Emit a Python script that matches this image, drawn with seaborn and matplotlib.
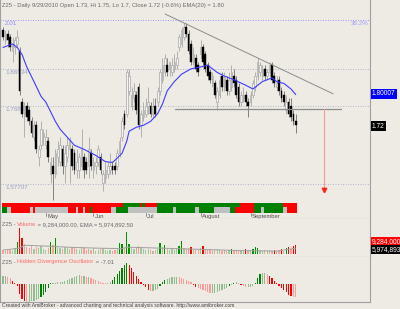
import numpy as np
import matplotlib
matplotlib.use('Agg')
import matplotlib.pyplot as plt
from matplotlib.transforms import blended_transform_factory
import seaborn as sns

# ---------------- data ----------------
opens = [1.98,1.95,1.97,1.96,1.92,1.93,1.94,1.92,1.78,1.75,1.77,1.76,1.73,1.69,1.72,1.64,1.67,1.69,1.67,1.68,
         1.60,1.62,1.60,1.64,1.63,1.66,1.62,1.64,1.66,1.66,1.65,1.61,1.61,1.62,1.64,1.63,1.62,1.65,1.61,1.62,
         1.63,1.64,1.58,1.59,1.60,1.61,1.62,1.62,1.62,1.65,1.69,1.75,1.75,1.81,1.77,1.79,1.80,1.82,1.72,1.74,
         1.75,1.77,1.77,1.75,1.77,1.78,1.81,1.84,1.86,1.88,1.87,1.86,1.87,1.88,1.93,1.94,1.96,1.99,1.97,1.94,
         1.89,1.90,1.88,1.91,1.93,1.91,1.88,1.86,1.83,1.83,1.78,1.80,1.85,1.82,1.84,1.81,1.82,1.85,1.84,1.82,
         1.78,1.79,1.80,1.78,1.78,1.80,1.82,1.85,1.86,1.85,1.87,1.85,1.86,1.88,1.85,1.82,1.84,1.81,1.80,1.76,
         1.78,1.77,1.75,1.73]
highs = [1.99,1.98,1.98,1.97,1.96,1.96,1.98,1.93,1.79,1.78,1.78,1.77,1.74,1.73,1.73,1.67,1.73,1.71,1.71,1.69,
         1.64,1.64,1.66,1.68,1.69,1.67,1.67,1.69,1.69,1.67,1.66,1.66,1.65,1.71,1.65,1.64,1.69,1.66,1.64,1.64,
         1.67,1.65,1.61,1.63,1.63,1.65,1.63,1.63,1.66,1.69,1.74,1.76,1.87,1.87,1.82,1.83,1.81,1.83,1.76,1.78,
         1.79,1.82,1.78,1.79,1.79,1.82,1.87,1.90,1.91,1.90,1.89,1.90,1.91,1.92,1.97,1.99,2.00,2.00,1.98,1.95,
         1.93,1.91,1.89,1.95,1.94,1.92,1.89,1.87,1.86,1.84,1.82,1.85,1.86,1.86,1.85,1.86,1.88,1.87,1.85,1.83,
         1.81,1.82,1.81,1.79,1.81,1.84,1.86,1.90,1.89,1.88,1.88,1.87,1.89,1.89,1.86,1.85,1.85,1.82,1.81,1.80,
         1.79,1.79,1.76,1.75]
lows = [1.95,1.94,1.93,1.92,1.89,1.91,1.93,1.80,1.74,1.69,1.73,1.72,1.69,1.68,1.65,1.62,1.66,1.67,1.66,1.63,
        1.58,1.54,1.59,1.62,1.62,1.60,1.58,1.63,1.58,1.61,1.60,1.59,1.59,1.61,1.59,1.60,1.59,1.61,1.59,1.60,
        1.62,1.60,1.56,1.58,1.59,1.60,1.60,1.60,1.61,1.64,1.68,1.71,1.74,1.80,1.76,1.78,1.75,1.71,1.69,1.73,
        1.74,1.75,1.74,1.74,1.74,1.77,1.80,1.83,1.85,1.85,1.85,1.85,1.86,1.87,1.92,1.93,1.95,1.96,1.91,1.88,
        1.88,1.86,1.85,1.90,1.88,1.86,1.84,1.83,1.82,1.79,1.76,1.79,1.81,1.81,1.80,1.80,1.81,1.82,1.79,1.77,
        1.77,1.78,1.77,1.74,1.77,1.79,1.81,1.84,1.85,1.84,1.84,1.84,1.85,1.83,1.82,1.81,1.80,1.78,1.77,1.75,
        1.74,1.73,1.72,1.70]
closes = [1.96,1.97,1.95,1.93,1.94,1.95,1.96,1.81,1.75,1.77,1.74,1.73,1.70,1.72,1.66,1.66,1.71,1.70,1.69,1.64,
          1.63,1.60,1.65,1.66,1.67,1.62,1.65,1.67,1.68,1.62,1.61,1.63,1.64,1.66,1.61,1.61,1.66,1.62,1.63,1.63,
          1.66,1.61,1.60,1.61,1.62,1.62,1.61,1.61,1.65,1.68,1.73,1.72,1.86,1.85,1.80,1.81,1.76,1.72,1.75,1.76,
          1.77,1.78,1.75,1.77,1.75,1.81,1.86,1.88,1.90,1.86,1.89,1.88,1.89,1.90,1.96,1.98,1.99,1.97,1.92,1.89,
          1.91,1.87,1.86,1.93,1.89,1.87,1.85,1.84,1.85,1.80,1.81,1.84,1.82,1.85,1.81,1.84,1.86,1.83,1.80,1.78,
          1.80,1.80,1.78,1.77,1.80,1.83,1.85,1.89,1.88,1.87,1.85,1.86,1.88,1.84,1.83,1.83,1.81,1.79,1.78,1.78,
          1.75,1.74,1.73,1.72]

# price EMA(20) read at selected bars
ema_idx = [0,4,6,8,10,13,16,18,20,22,24,27,30,34,39,43,46,47,50,52,53,56,59,62,65,67,69,72,75,79,83,86,88,
           90,93,97,102,105,107,109,113,115,118,121,123]
ema_val = [1.93,1.94,1.93,1.91,1.875,1.835,1.795,1.78,1.755,1.73,1.71,1.69,1.67,1.66,1.645,1.63,1.628,1.633,
           1.65,1.68,1.705,1.715,1.72,1.73,1.75,1.775,1.81,1.835,1.855,1.87,1.875,1.88,1.87,1.86,1.85,1.84,
           1.825,1.815,1.825,1.835,1.845,1.835,1.83,1.815,1.80]

# volume in millions
volume = [4,3,5,4,3,6,12,27,17,10,7,6,8,5,7,6,8,5,4,6,12,9,17,7,6,5,7,6,5,7,6,5,4,7,6,4,5,4,6,3,
          4,5,6,4,3,4,3,4,5,11,10,6,23,10,6,5,7,8,6,5,4,5,4,3,4,5,11,7,9,5,4,5,4,5,8,13,6,5,6,7,
          4,5,4,6,8,5,4,5,3,4,5,4,3,4,3,4,5,3,4,3,4,3,5,4,3,5,7,6,4,3,4,3,4,3,4,3,4,5,3,6,
          7,5,8,9.284]
vol_ema_idx = [0, 7, 9, 20, 27, 40, 50, 52, 60, 80, 100, 115, 123]
vol_ema_val = [4, 6, 9, 8, 7, 6, 5.5, 7, 6.5, 5, 3.5, 3, 5.97]

# hidden divergence oscillator
osc = [4,4,3.5,3,1.5,0.5,-1,-5,-8,-9,-9.5,-9.5,-9,-9,-8.5,-8,-7,-5.5,-4,-2,
       0.3,0.5,0.5,1,1,1,1.5,2,2.5,3,3.5,4,4.2,4,4,3.5,3.5,3,2.5,2,
       1.5,1,0.5,0.2,0.3,1,2,3.5,5,6.5,8,9.5,10.5,9.5,8,6,4,2.5,1,-0.5,
       -1.5,-3,-3.5,-3.5,-3,-2.5,-1,1,2,2.5,3,3.5,3.5,3.5,3.2,3,2.5,2,1.5,1,
       -0.5,-1.5,-2,-2.5,-3,-3.5,-4,-4.5,-4.5,-4.5,-4,-3.5,-3,-2.5,-2,-1,-0.5,0.5,1,0.5,
       -0.5,-1,-1.5,-1.5,-1.5,-1,0.5,3,5,5.5,5.5,5,4,3,1.5,0.5,-1,-2,-3,-4,
       -5.5,-6.5,-7,-7.01]

# trend ribbon (R = red, G = green, S = grey)
ribbon_top = "R" * 51 + "G" * 7 + "R" + "G" + "R" * 5 + "G" * 35 + "R" * 6 + "G" * 12 + "R" * 6
ribbon_bot = ("GG" + "SS" + "R" * 8 + "S" + "R" + "S" * 14 + "RRR" + "S" + "RR" + "S" + "RR" + "G" +
              "R" * 8 + "SS" + "G" * 5 + "S" * 12 + "G" * 7 + "S" + "G" * 8 + "SS" + "G" * 6 + "S" * 7 +
              "GG" + "R" * 8 + "GGG" + "S" + "G" * 8 + "SS" + "RRRR")

fib_levels = [2.01, 1.86934, 1.76888, 1.57707]
fib_labels = ["2.01", "1.86934", "1.76888", "1.57707"]
month_idx = [18, 38, 60, 83, 104]
month_labels = ["May", "Jun", "Jul", "August", "September"]

trend_x = [68.1, 138.7]
trend_y = [2.028, 1.802]
support_x = [72.3, 142.0]
support_y = [1.762, 1.762]
arrow_x = 134.9
arrow_from, arrow_to = 1.762, 1.556

title_main = "Z25 - Daily 9/29/2010 Open 1.73, Hi 1.75, Lo 1.7, Close 1.72 (-0.6%) EMA(20) = 1.80"

# ---------------- style ----------------
sns.set_theme(style='white')
plt.rcParams['font.family'] = ['Liberation Sans', 'DejaVu Sans']
BG = '#EEEAE4'
GRID = '#A0A0A0'
W, H = 400, 309
FS = 4.2

fig = plt.figure(figsize=(W / 100, H / 100), dpi=100, facecolor=BG)


def px_axes(x0, y0, x1, y1):
    a = fig.add_axes([x0 / W, 1 - y1 / H, (x1 - x0) / W, (y1 - y0) / H])
    a.set_facecolor(BG)
    return a


n = len(closes)
idx = np.arange(n)
o, hh, ll, c = map(np.array, (opens, highs, lows, closes))
XL = (-3 / 2.38, 367 / 2.38)

# ---------------- main price panel ----------------
ax = px_axes(0, 0, 370, 219)
ax.set_yscale('log')
ax.set_xlim(*XL)
ax.set_ylim(1.4973, 2.0704)
ax.set_xticks([]); ax.set_yticks([]); ax.minorticks_off()
ax.spines['top'].set_visible(False)
for s in ['left', 'right', 'bottom']:
    ax.spines[s].set_color(GRID); ax.spines[s].set_linewidth(0.8)

# fib/levels
for k, (lv, lb) in enumerate(zip(fib_levels, fib_labels)):
    col = '#8C8CFF' if k == 0 else '#A8B0C8'
    ax.axhline(lv, color=col, lw=0.6, ls=(0, (1.2, 1.8)), zorder=1)
    ax.text(0.9, lv * 0.999, lb, fontsize=4.5, color='#98A4C4' if k else '#8C8CFF',
            va='top', ha='left', zorder=2)
ax.text(XL[1] - 0.5, fib_levels[0] * 0.999, "38.2%", fontsize=4.5, color='#A0A0FF', va='top', ha='right')

# candles
up = c >= o
ax.vlines(idx[up], ll[up], hh[up], color='#A8A8A8', lw=0.6, zorder=3)
ax.vlines(idx[~up], ll[~up], hh[~up], color='#707070', lw=0.6, zorder=3)
blo = np.minimum(o, c)
bh = np.maximum(np.abs(c - o), 0.003)
ax.bar(idx[up], bh[up], bottom=blo[up], width=0.7, color='#F4F4F4', edgecolor='#A8A8A8', lw=0.5, zorder=4)
ax.bar(idx[~up], bh[~up], bottom=blo[~up], width=0.7, color='black', edgecolor='black', lw=0.3, zorder=4)

# EMA
sns.lineplot(x=ema_idx, y=ema_val, ax=ax, color='#3C3CFF', lw=0.8, zorder=5)

# trend line, support, arrow
ax.plot(trend_x, trend_y, color='#8C8C8C', lw=0.7, zorder=6)
ax.plot(support_x, support_y, color='#8C8C8C', lw=0.9, zorder=6)
ax.plot([arrow_x, arrow_x], [arrow_from, arrow_to + 0.012], color='#FF9A9A', lw=0.8, zorder=6)
ax.plot([arrow_x], [arrow_to + 0.006], marker='v', color='#FF2020', ms=3.2, zorder=7)

# month ticks / labels
tr = blended_transform_factory(ax.transData, ax.transAxes)
for mi, lb in zip(month_idx, month_labels):
    ax.plot([mi, mi], [0.012, 0.027], transform=tr, color='#808080', lw=0.6, clip_on=False)
    ax.text(mi + 0.5, 0.013, lb, transform=tr, fontsize=FS, color='#505050', va='center', ha='left')

# ribbon
rax = px_axes(0, 203, 370, 212.6)
rax.set_xlim(*XL); rax.set_ylim(0, 2)
rax.axis('off'); rax.patch.set_alpha(0)
cmap = {'R': '#FF0000', 'G': '#008000', 'S': '#C0C0C0'}
rax.bar(idx, 0.8, bottom=1.2, width=1.0, color=[cmap[ch] for ch in ribbon_top], lw=0)
rax.bar(idx, 1.2, bottom=0.0, width=1.0, color=[cmap[ch] for ch in ribbon_bot], lw=0)

# ---------------- volume panel ----------------
vax = px_axes(0, 219, 370, 257)
vax.set_xlim(*XL); vax.set_ylim(-3.1, 36.1)
vax.set_xticks([]); vax.set_yticks([])
vax.spines['top'].set_visible(False)
for s in ['left', 'right', 'bottom']:
    vax.spines[s].set_color(GRID); vax.spines[s].set_linewidth(0.8)
vol = np.array(volume)
vema_full = np.interp(idx, vol_ema_idx, vol_ema_val)
vcol = []
for i in range(n):
    strong = vol[i] > vema_full[i] * 1.3
    if up[i]:
        vcol.append('#009000' if strong else '#9CC89C')
    else:
        vcol.append('#FF0000' if strong else '#FF9C9C')
vax.bar(idx, vol, width=0.55, color=vcol, lw=0)
sns.lineplot(x=vol_ema_idx, y=vol_ema_val, ax=vax, color='#A0A0A0', lw=0.7)

# ---------------- oscillator panel ----------------
oax = px_axes(0, 257, 370, 302)
oax.set_xlim(*XL); oax.set_ylim(-9.3, 13.5)
oax.set_xticks([]); oax.set_yticks([])
oax.spines['top'].set_visible(False)
for s in ['left', 'right', 'bottom']:
    oax.spines[s].set_color(GRID); oax.spines[s].set_linewidth(0.8)
ov = np.array(osc)
ocol = []
for i in range(n):
    d = ov[i] - (ov[i - 1] if i else ov[i])
    if d >= 0:
        ocol.append('#008000' if d >= 0.9 else '#90BC90')
    else:
        ocol.append('#FF0000' if d <= -0.9 else '#FF9A9A')
oax.bar(idx, ov, width=0.5, color=ocol, lw=0)

# ---------------- texts ----------------
renderer = fig.canvas.get_renderer()


def color_text(x_px, y_px, parts, fs=FS):
    x = x_px
    for s, col in parts:
        t = fig.text(x / W, 1 - y_px / H, s, color=col, fontsize=fs, va='center', ha='left')
        x += t.get_window_extent(renderer=renderer).width


color_text(2, 5, [(title_main, '#6A6A6A')])
color_text(2, 225, [("Z25 - ", '#6A6A6A'), ("Volume", '#FF6A6A'),
                    (" = 9,284,000.00, EMA = 5,974,892.50", '#6A6A6A')])
color_text(2, 262, [("Z25 - ", '#6A6A6A'), ("Hidden Divergence Oscillator", '#FF6A6A'),
                    (" = -7.01", '#6A6A6A')])
fig.text(2 / W, 1 - 305.5 / H,
         "Created with AmiBroker - advanced charting and technical analysis software. http://www.amibroker.com",
         fontsize=3.6, color='#404040', va='center', ha='left')


def box_label(y_px, s, fc):
    fig.text(372 / W, 1 - y_px / H, s, fontsize=4.8, color='white', va='center', ha='left',
             bbox=dict(facecolor=fc, edgecolor='none', pad=0.8))


box_label(94, "1.80007", '#0000FF')
box_label(126, "1.72", 'black')
box_label(242, "9,284,000", '#FF0000')
box_label(249.5, "5,974,893", 'black')

fig.savefig('out.png', dpi=100, facecolor=BG)
